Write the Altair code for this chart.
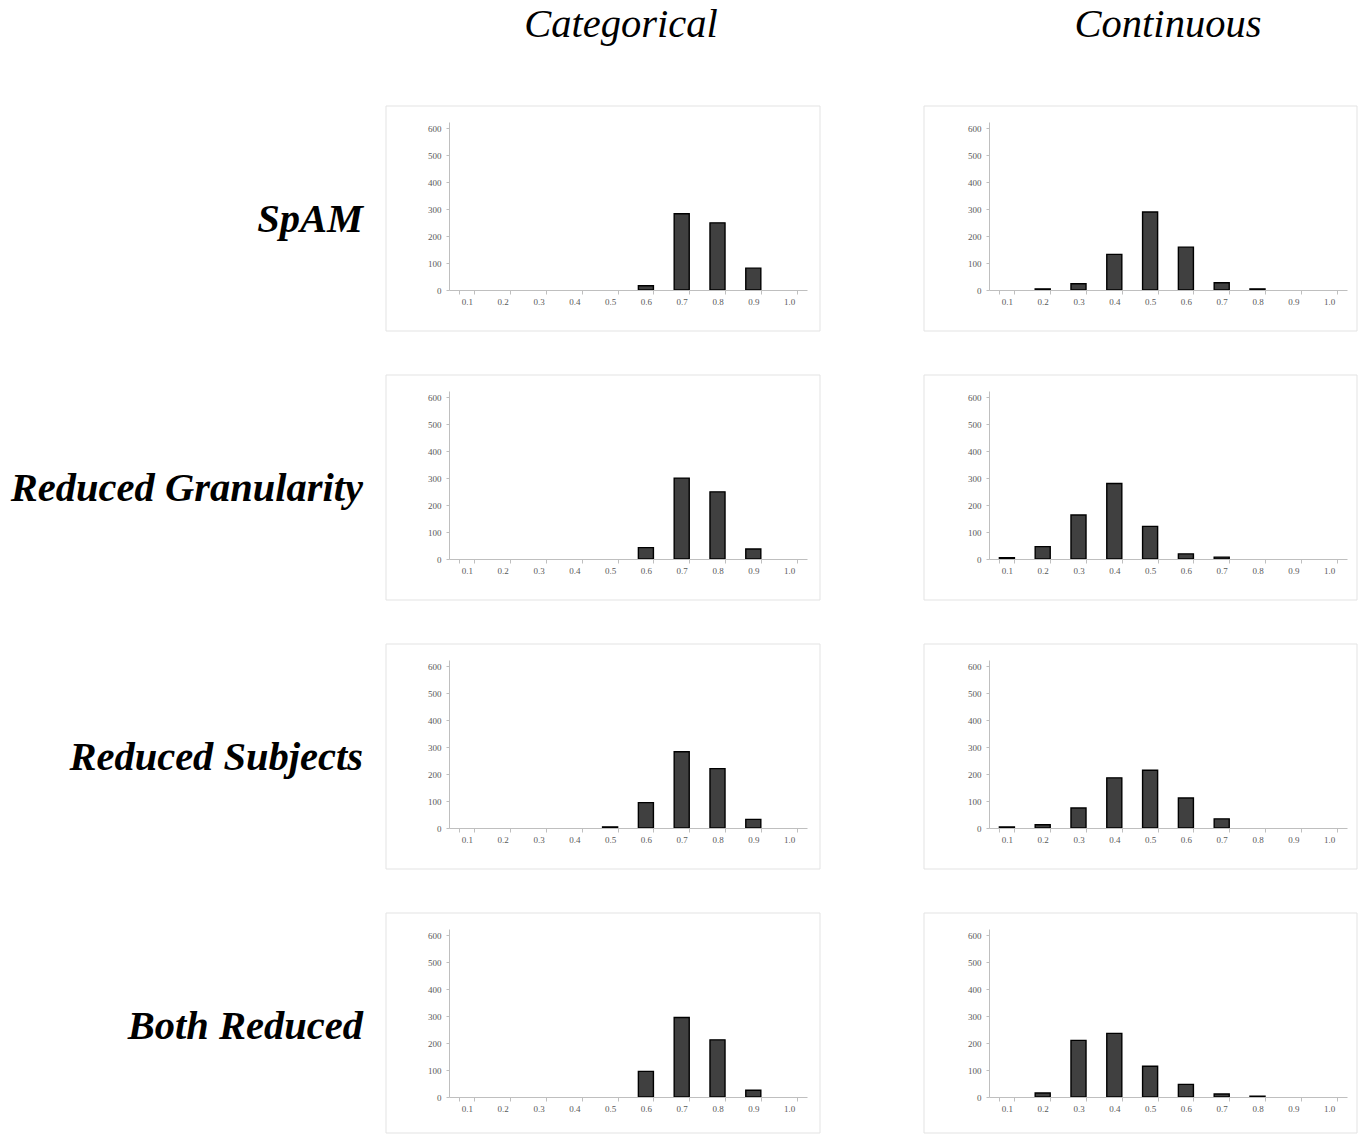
import altair as alt
import pandas as pd

# Histogram bins shared by every panel
bins = ["0.1", "0.2", "0.3", "0.4", "0.5", "0.6", "0.7", "0.8", "0.9", "1.0"]

# Counts per bin, categorical scale
cat_spam = [0, 0, 0, 0, 0, 16, 283, 249, 81, 0]
cat_reduced_gran = [0, 0, 0, 0, 0, 42, 300, 249, 37, 0]
cat_reduced_subj = [0, 0, 0, 0, 4, 94, 283, 220, 32, 0]
cat_both = [0, 0, 0, 0, 0, 95, 295, 212, 25, 0]

# Counts per bin, continuous scale
cont_spam = [0, 4, 23, 132, 289, 159, 27, 4, 0, 0]
cont_reduced_gran = [5, 46, 163, 280, 121, 19, 7, 0, 0, 0]
cont_reduced_subj = [4, 12, 74, 186, 214, 111, 34, 0, 0, 0]
cont_both = [0, 15, 210, 236, 114, 47, 11, 3, 0, 0]

row_labels = ["SpAM", "Reduced Granularity", "Reduced Subjects", "Both Reduced"]
col_titles = ["Categorical", "Continuous"]
series = [
    [cat_spam, cont_spam],
    [cat_reduced_gran, cont_reduced_gran],
    [cat_reduced_subj, cont_reduced_subj],
    [cat_both, cont_both],
]
y_ticks = [0, 100, 200, 300, 400, 500, 600]

PW, PH = 358, 168          # plot area of one histogram
SERIF = "Liberation Serif"
one = pd.DataFrame({"k": [0]})
no_view = alt.ViewBackground(stroke="transparent", strokeWidth=0, strokeOpacity=0)


def panel(r, c):
    df = pd.DataFrame({"bin": bins, "count": series[r][c]})
    layers = []

    # light frame around the histogram
    bottom = 209 if r < 3 else 204
    left = -63 if c == 0 else -65
    right = 371 if c == 0 else 368
    layers.append(
        alt.Chart(one).mark_rect(
            fill="white", fillOpacity=0, stroke="#e3e3e3", strokeWidth=1
        ).encode(
            x=alt.value(left), x2=alt.value(right),
            y=alt.value(-16), y2=alt.value(bottom),
        )
    )
    if r == 0 and c == 0:
        # anchors the page origin at the top-left corner
        layers.append(
            alt.Chart(one).mark_rect(opacity=0).encode(
                x=alt.value(-449), x2=alt.value(-448),
                y=alt.value(-122), y2=alt.value(-121),
            )
        )

    layers.append(
        alt.Chart(df)
        .transform_filter("datum.count > 0")
        .mark_bar(fill="#404040", stroke="#000000", strokeWidth=1.4)
        .encode(
            x=alt.X(
                "bin:N", sort=bins,
                scale=alt.Scale(domain=bins, paddingInner=0.58, paddingOuter=0.29),
                axis=alt.Axis(
                    title=None, labelAngle=0, tickBand="extent", tickSize=4,
                    labelPadding=3, labelFont=SERIF, labelFontSize=9,
                    labelColor="#595959", domainColor="#bfbfbf", tickColor="#bfbfbf",
                    grid=False, zindex=1,
                ),
            ),
            y=alt.Y(
                "count:Q",
                scale=alt.Scale(domain=[0, 623], nice=False),
                axis=alt.Axis(
                    title=None, values=y_ticks, tickSize=3, labelPadding=5,
                    labelFont=SERIF, labelFontSize=9, labelColor="#595959",
                    domainColor="#bfbfbf", tickColor="#bfbfbf", grid=False, zindex=1,
                ),
            ),
        )
    )

    if c == 0:
        layers.append(
            alt.Chart(one).mark_text(
                font=SERIF, fontSize=40.5, fontStyle="italic", fontWeight="bold",
                align="right", baseline="middle", color="#000000",
            ).encode(x=alt.value(-86), y=alt.value(98), text=alt.value(row_labels[r]))
        )
    if r == 0:
        layers.append(
            alt.Chart(one).mark_text(
                font=SERIF, fontSize=40.5, fontStyle="italic",
                align="center", baseline="middle", color="#000000",
            ).encode(
                x=alt.value(172 if c == 0 else 179), y=alt.value(-97),
                text=alt.value(col_titles[c]),
            )
        )

    return alt.layer(*layers).properties(width=PW, height=PH, view=no_view)


panels = [panel(r, c) for r in range(4) for c in range(2)]

chart = (
    alt.concat(*panels, columns=2, spacing={"row": 101, "column": 182}, bounds="flush")
    .properties(padding=0)
    .configure_view(stroke="transparent", strokeWidth=0)
    .configure(background="white")
)

chart.save("out.html", embed_options={"renderer": "svg", "actions": False})
